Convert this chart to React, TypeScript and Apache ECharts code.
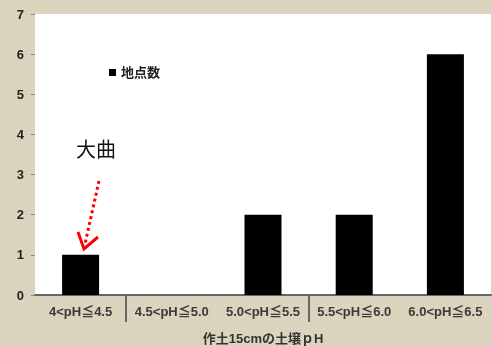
import React, { useEffect, useRef } from "react";
import * as echarts from "echarts";

const categories = ["4<pH≦4.5", "4.5<pH≦5.0", "5.0<pH≦5.5", "5.5<pH≦6.0", "6.0<pH≦6.5"];
const counts = [1, 0, 2, 2, 6];
const seriesName = "地点数";
const xAxisName = "作土15cmの土壌ｐH";
const annotation = "大曲";
const separatorTicks = [1, 3];

const FONT = "'Liberation Sans', 'Noto Sans CJK JP', sans-serif";

function makeTexture(): string | null {
  try {
    const c = document.createElement("canvas");
    c.width = 10;
    c.height = 10;
    const ctx = c.getContext("2d");
    if (!ctx) return null;
    ctx.fillStyle = "#ddd4bd";
    ctx.fillRect(0, 0, 10, 10);
    ctx.fillStyle = "#d5d0c2";
    ctx.fillRect(0, 0, 10, 1);
    ctx.fillRect(0, 0, 1, 10);
    return c.toDataURL();
  } catch (e) {
    return null;
  }
}

export default function App() {
  const ref = useRef<HTMLDivElement>(null);
  useEffect(() => {
    if (!ref.current) return;
    const chart = echarts.init(ref.current, null, { renderer: "svg" });
    const tex = makeTexture();
    chart.setOption({
      animation: false,
      backgroundColor: tex ? { image: tex, repeat: "repeat" } : "#ddd4bd",
      grid: {
        left: 35,
        right: 1,
        top: 14,
        bottom: 51,
        show: true,
        backgroundColor: "#ffffff",
        borderWidth: 0,
        outerBoundsMode: "none",
        containLabel: false,
      },
      legend: {
        left: 104,
        top: 61,
        data: [seriesName],
        icon: "rect",
        itemWidth: 7,
        itemHeight: 7,
        itemGap: 4,
        textStyle: { fontFamily: FONT, fontSize: 13, fontWeight: "bold", color: "#222" },
      },
      xAxis: [
        {
          type: "category",
          data: categories,
          name: xAxisName,
          nameLocation: "middle",
          nameGap: 37,
          nameTextStyle: { fontFamily: FONT, fontSize: 13, fontWeight: "bold", color: "#333" },
          axisLine: { lineStyle: { color: "#666", width: 2 } },
          axisTick: { show: false },
          axisLabel: { interval: 0, margin: 10, fontFamily: FONT, fontSize: 13, fontWeight: "bold", color: "#3a3a3a" },
        },
        {
          type: "value",
          min: 0,
          max: 5,
          position: "bottom",
          axisLine: { show: false },
          splitLine: { show: false },
          axisLabel: { show: false },
          axisTick: {
            show: true,
            length: 27,
            customValues: separatorTicks,
            lineStyle: { color: "#666", width: 2 },
          },
        },
      ],
      yAxis: {
        type: "value",
        min: 0,
        max: 7,
        interval: 1,
        splitLine: { show: false },
        axisLine: { show: false },
        axisTick: { show: true, length: 4, lineStyle: { color: "#888" } },
        axisLabel: { margin: 11, fontFamily: FONT, fontSize: 13, fontWeight: "bold", color: "#222" },
      },
      series: [
        {
          name: seriesName,
          type: "bar",
          data: counts,
          barWidth: 37,
          xAxisIndex: 0,
          itemStyle: { color: "#000" },
        },
      ],
      graphic: [
        {
          type: "text",
          left: 76,
          top: 138,
          style: { text: annotation, font: "20px 'Noto Sans CJK JP', sans-serif", fill: "#111" },
        },
        {
          type: "line",
          shape: { x1: 99, y1: 181, x2: 85, y2: 244 },
          style: { stroke: "#ff0000", lineWidth: 3, lineDash: [3, 3] },
        },
        {
          type: "polyline",
          shape: { points: [[78, 232], [84, 249], [98, 237]] },
          style: { stroke: "#ff0000", lineWidth: 3, fill: "none" },
        },
      ],
    });
    return () => chart.dispose();
  }, []);
  return <div ref={ref} style={{ position: "fixed", left: 0, top: 0, width: 492, height: 346 }} />;
}
